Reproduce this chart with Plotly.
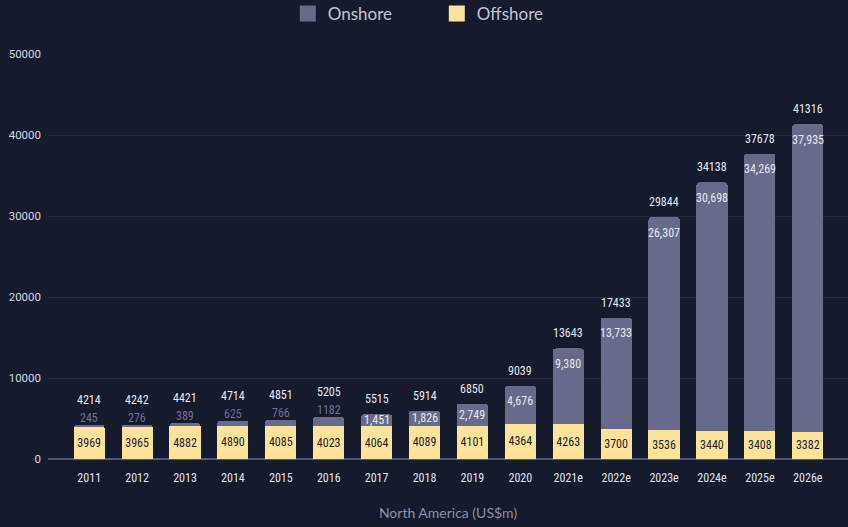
import plotly.graph_objects as go

years = ["2011", "2012", "2013", "2014", "2015", "2016", "2017", "2018",
         "2019", "2020", "2021e", "2022e", "2023e", "2024e", "2025e", "2026e"]
onshore = [245, 276, 389, 625, 766, 1182, 1451, 1826, 2749, 4676,
           9380, 13733, 26307, 30698, 34269, 37935]
offshore = [3969, 3966, 4032, 4089, 4085, 4023, 4064, 4088, 4101, 4363,
            4263, 3700, 3537, 3440, 3409, 3381]
offshore_labels = ["3969", "3965", "4882", "4890", "4085", "4023", "4064", "4089",
                   "4101", "4364", "4263", "3700", "3536", "3440", "3408", "3382"]
totals = [4214, 4242, 4421, 4714, 4851, 5205, 5515, 5914, 6850, 9039,
          13643, 17433, 29844, 34138, 37678, 41316]

BG = "#161a2d"
ON_C = "#676b89"
OFF_C = "#fde39a"
NARROW = "Liberation Sans Narrow, Roboto Condensed, Arial Narrow, sans-serif"

fig = go.Figure()
fig.add_trace(go.Bar(
    x=years, y=offshore, name="Offshore", marker_color=OFF_C,
    marker_line_width=0, showlegend=False,
    text=offshore_labels, textposition="inside", insidetextanchor="middle",
    constraintext="none",
    textfont=dict(family=NARROW, size=12, color="#1b1e30"),
))
fig.add_trace(go.Bar(
    x=years, y=onshore, name="Onshore", marker_color=ON_C,
    marker_line_width=0, showlegend=False,
))
# legend entries
fig.add_trace(go.Scatter(x=[None], y=[None], mode="markers", name="Onshore",
                         marker=dict(symbol="square", size=17, color=ON_C)))
fig.add_trace(go.Scatter(x=[None], y=[None], mode="markers", name="Offshore",
                         marker=dict(symbol="square", size=17, color=OFF_C)))

annotations = []
for i, (on, tot) in enumerate(zip(onshore, totals)):
    if on < 1300:
        annotations.append(dict(x=i, y=tot, text=str(on), showarrow=False,
                                yanchor="middle", yshift=7,
                                font=dict(family=NARROW, size=12, color="#6c7090")))
        annotations.append(dict(x=i, y=tot, text=str(tot), showarrow=False,
                                yanchor="middle", yshift=25,
                                font=dict(family=NARROW, size=12, color="#e6e7ef")))
    else:
        annotations.append(dict(x=i, y=tot - min(on / 2, 1900), text=f"{on:,}",
                                showarrow=False, yanchor="middle",
                                font=dict(family=NARROW, size=12, color="#e6e7ef")))
        annotations.append(dict(x=i, y=tot, text=str(tot), showarrow=False,
                                yanchor="middle", yshift=15,
                                font=dict(family=NARROW, size=12, color="#e6e7ef")))

fig.update_layout(
    barmode="stack",
    bargap=0.35,
    barcornerradius=3,
    width=848, height=527,
    paper_bgcolor=BG, plot_bgcolor=BG,
    margin=dict(l=48, r=0, t=54, b=68, autoexpand=False),
    showlegend=True,
    legend=dict(orientation="h", x=0.486, xanchor="center", y=1.099, yanchor="middle",
                traceorder="normal",
                font=dict(family="Lato, sans-serif", size=17, color="#c3c5d4"),
                bgcolor="rgba(0,0,0,0)", entrywidth=104, entrywidthmode="pixels"),
    annotations=annotations,
    xaxis=dict(
        type="category", range=[-0.86, 15.84],
        tickfont=dict(family=NARROW, size=12, color="#e0e1ea"),
        showgrid=False, showline=False, zeroline=False, ticks="",
        ticklabelstandoff=10,
        title=dict(text="North America (US$m)", standoff=24,
                   font=dict(family="Lato, sans-serif", size=14, color="#8c8fa6")),
    ),
    yaxis=dict(
        range=[0, 50000], tickvals=[0, 10000, 20000, 30000, 40000, 50000],
        ticktext=["0", "10000", "20000", "30000", "40000", "50000"],
        tickfont=dict(family="Roboto, sans-serif", size=11.5, color="#d6d7e2"),
        showgrid=True, gridcolor="#272b41", gridwidth=1,
        zeroline=True, zerolinecolor="#555a78", zerolinewidth=2,
        showline=False, ticks="", ticklabelstandoff=6,
    ),
)

fig.write_html("out.html", config={"displayModeBar": False},
               post_script="document.body.style.margin='0';document.body.style.overflow='hidden';")
